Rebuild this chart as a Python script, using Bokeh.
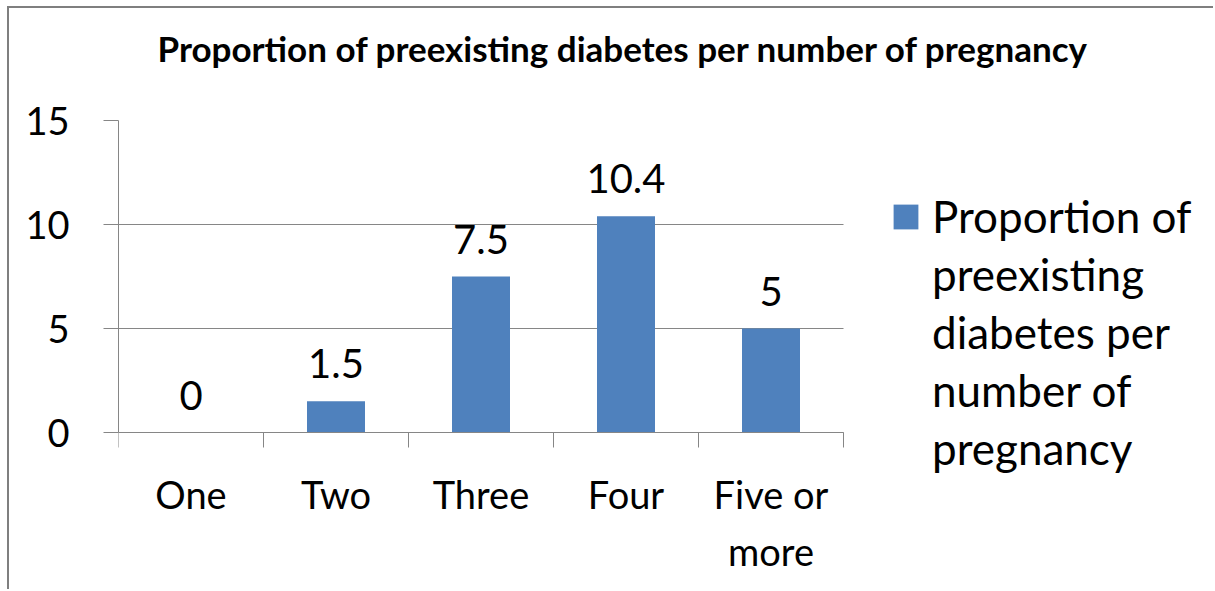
from bokeh.plotting import figure
from bokeh.models import (Range1d, FixedTicker, LabelSet, ColumnDataSource,
                          Legend, LegendItem, Title)
from bokeh.core.properties import value
from bokeh.embed import file_html
from bokeh.resources import INLINE

title_text = "Proportion of preexisting diabetes per number of pregnancy"
categories = ["One", "Two", "Three", "Four", "Five or\nmore"]
values = [0, 1.5, 7.5, 10.4, 5]
y_ticks = [0, 5, 10, 15]
series_lines = ["Proportion of", "preexisting", "diabetes per", "number of", "pregnancy"]

FONT = "Lato"
GRAY = "#868686"
BLUE = "#4F81BD"

# layout constants (canvas pixels)
W, H = 1206, 583
LEFT, TOP, BOTTOM = 109, 112, 20
CAT_PX = 145           # width of one category slot
PLOT_H = 312           # height of the 0..15 value area
ZERO_Y = 424           # canvas y of the value 0

n = len(categories)
xs = [i + 0.5 for i in range(n)]
cat_line1 = [c.split("\n")[0] for c in categories]
cat_line2 = [c.split("\n")[1] if "\n" in c else "" for c in categories]
src = ColumnDataSource(dict(
    x=xs, top=values, zero=[0] * n, cat1=cat_line1, cat2=cat_line2,
    lab=[f"{v:g}" for v in values],
))

y_max = y_ticks[-1]
px_per_unit = PLOT_H / y_max
frame_w = W - LEFT
frame_bottom = H - BOTTOM
x_end = frame_w / CAT_PX
y_start = -(frame_bottom - ZERO_Y) / px_per_unit

p = figure(width=W, height=H, output_backend="svg", toolbar_location=None,
           x_range=Range1d(0, x_end), y_range=Range1d(y_start, y_max),
           min_border_left=LEFT, min_border_right=0,
           min_border_top=TOP, min_border_bottom=BOTTOM)
p.styles = {"border-top": "2px solid #7f7f7f", "border-left": "2px solid #7f7f7f",
            "margin-top": "6px", "margin-left": "7px"}
p.outline_line_color = None
p.background_fill_color = "white"
p.border_fill_color = "white"

r = p.vbar(x="x", top="top", width=0.4, bottom=0, source=src,
           fill_color=BLUE, line_color=None)

# Title (with a blank spacer between it and the plot area)
p.title.text = title_text
p.title.align = "left"
p.title.offset = 39
p.title.standoff = 0
p.title.text_font = FONT
p.title.text_font_style = "bold"
p.title.text_font_size = "35px"
p.title.text_color = "black"
p.add_layout(Title(text=" ", text_font_size="10px", standoff=39), "above")

# Y axis
p.yaxis.ticker = FixedTicker(ticks=y_ticks)
p.yaxis.bounds = (0, y_max)
p.yaxis.axis_line_color = GRAY
p.yaxis.major_tick_line_color = GRAY
p.yaxis.major_tick_out = 15
p.yaxis.major_tick_in = 0
p.yaxis.minor_tick_line_color = None
p.yaxis.major_label_text_font = FONT
p.yaxis.major_label_text_font_size = "38px"
p.yaxis.major_label_text_color = "black"
p.yaxis.major_label_standoff = 34

# X axis at value 0, tick marks at category boundaries
p.xaxis.ticker = FixedTicker(ticks=[], minor_ticks=list(range(n + 1)))
p.xaxis.fixed_location = 0
p.xaxis.bounds = (0, n)
p.xaxis.axis_line_color = GRAY
p.xaxis.minor_tick_line_color = GRAY
p.xaxis.minor_tick_out = 15
p.xaxis.minor_tick_in = 0
p.xaxis.major_tick_line_color = None
p.xaxis.major_tick_out = 0
p.xaxis.major_tick_in = 0
p.xaxis.major_label_standoff = 0
p.xaxis.major_label_text_font_size = "0px"

# Grid
p.xgrid.grid_line_color = None
p.ygrid.ticker = FixedTicker(ticks=y_ticks)
p.ygrid.bounds = (0, y_max)
p.ygrid.grid_line_color = GRAY
p.ygrid.grid_line_width = 1
if "cross_bounds" in p.ygrid[0].properties():
    p.ygrid.cross_bounds = (0, n)
else:
    p.ygrid.grid_line_color = None
    p.segment(x0=0, x1=n, y0=y_ticks, y1=y_ticks, line_color=GRAY, line_width=1)

# Category labels (each line centred under its slot)
for field, off in (("cat1", -76), ("cat2", -133)):
    p.add_layout(LabelSet(x="x", y="zero", text=field, source=src,
                          y_offset=off, text_align="center", text_baseline="alphabetic",
                          text_font=value(FONT), text_font_size="38px",
                          text_color="black"))

# Data labels
data_labels = LabelSet(x="x", y="top", text="lab", source=src,
                       y_offset=23, text_align="center", text_baseline="alphabetic",
                       text_font=value(FONT), text_font_size="40px", text_color="black")
p.add_layout(data_labels)

# Legend (one glyph, label wrapped over several rows)
items = [LegendItem(label=series_lines[0], renderers=[r])]
items += [LegendItem(label=t, renderers=[]) for t in series_lines[1:]]
legend = Legend(items=items, location=(772, 97), glyph_width=31, glyph_height=31,
                label_standoff=11, label_text_font=FONT,
                label_text_font_size="44px", label_text_color="black", spacing=6,
                border_line_color=None, background_fill_color=None,
                padding=0, margin=0)
p.add_layout(legend, "center")

open("out.html", "w").write(file_html(p, INLINE))
